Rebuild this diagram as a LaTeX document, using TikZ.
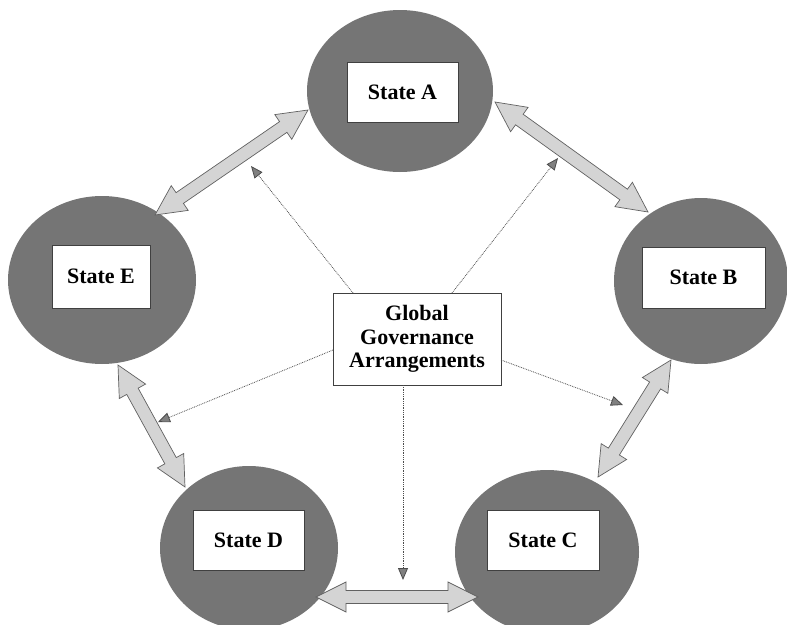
\documentclass[tikz,border=0pt]{standalone}
\usepackage{fontspec}
\setmainfont{Liberation Serif}
\usetikzlibrary{calc,arrows.meta,shapes.geometric}
\newcommand\fatarrow[2]{%
  \coordinate (#1#2P) at ($(#1)!30pt!(#2)$);
  \coordinate (#1#2Q) at ($(#2)!30pt!(#1)$);
  \draw[fatarrowstyle] (#1)
    -- ($(#1#2P)!15pt!90:(#2)$) -- ($(#1#2P)!6.5pt!90:(#2)$)
    -- ($(#1#2Q)!6.5pt!-90:(#1)$) -- ($(#1#2Q)!15pt!-90:(#1)$)
    -- (#2)
    -- ($(#1#2Q)!15pt!90:(#1)$) -- ($(#1#2Q)!6.5pt!90:(#1)$)
    -- ($(#1#2P)!6.5pt!-90:(#2)$) -- ($(#1#2P)!15pt!-90:(#2)$)
    -- cycle;}
\begin{document}
\begin{tikzpicture}[x=1pt,y=-1pt,
  statecirc/.style={ellipse, fill=black!54, draw=none, inner sep=0pt},
  statebox/.style={rectangle, draw=black!75, line width=0.6pt, fill=white,
    font=\bfseries\fontsize{22}{23.5}\selectfont, inner sep=0pt, align=center},
  fatarrowstyle/.style={fill=black!17, draw=black!62, line width=0.7pt, line join=miter},
  govarrow/.style={draw=black!70, line width=0.8pt, densely dotted,
    -{Triangle[length=12pt,width=10pt,fill=black!50]}}]
\useasboundingbox (0,0) rectangle (787,624);

% state ellipses
\node[statecirc, minimum width=186pt, minimum height=162pt] (Ae) at (400,91) {};
\node[statecirc, minimum width=174pt, minimum height=166pt] (Be) at (701,281) {};
\node[statecirc, minimum width=184pt, minimum height=164pt] (Ce) at (547,552) {};
\node[statecirc, minimum width=178pt, minimum height=164pt] (De) at (249,548) {};
\node[statecirc, minimum width=188pt, minimum height=168pt] (Ee) at (102,280) {};

% state boxes
\node[statebox, minimum width=111pt, minimum height=60pt] (A) at (402.5,92) {State A};
\node[statebox, minimum width=123pt, minimum height=61pt] (B) at (703.5,277.5) {State B};
\node[statebox, minimum width=112pt, minimum height=60pt] (C) at (543,540) {State C};
\node[statebox, minimum width=111pt, minimum height=60pt] (D) at (248.5,540) {State D};
\node[statebox, minimum width=98pt, minimum height=63pt] (E) at (101,276.5) {State E};

% central box
\node[statebox, minimum width=168pt, minimum height=92pt] (G) at (417,339)
  {Global\\Governance\\Arrangements};

% fat double arrows between states
\coordinate (ae1) at (308,110); \coordinate (ae2) at (155,215);
\coordinate (ab1) at (495,102); \coordinate (ab2) at (648,212);
\coordinate (bc1) at (671,360); \coordinate (bc2) at (598,477);
\coordinate (cd1) at (478,597); \coordinate (cd2) at (316,597);
\coordinate (ed1) at (118,365); \coordinate (ed2) at (185,487);
\fatarrow{ae1}{ae2}
\fatarrow{ab1}{ab2}
\fatarrow{bc1}{bc2}
\fatarrow{cd1}{cd2}
\fatarrow{ed1}{ed2}

% dotted arrows from the central box
\coordinate (g1) at (353,293); \coordinate (t1) at (251,166);
\coordinate (g2) at (452,293); \coordinate (t2) at (558,158);
\coordinate (g3) at (333,350); \coordinate (t3) at (158,422);
\coordinate (g4) at (501,360); \coordinate (t4) at (623,405);
\coordinate (g5) at (403,385); \coordinate (t5) at (403,580);
\draw[govarrow] (g1) -- (t1);
\draw[govarrow] (g2) -- (t2);
\draw[govarrow] (g3) -- (t3);
\draw[govarrow] (g4) -- (t4);
\draw[govarrow] (g5) -- (t5);
\end{tikzpicture}
\end{document}
